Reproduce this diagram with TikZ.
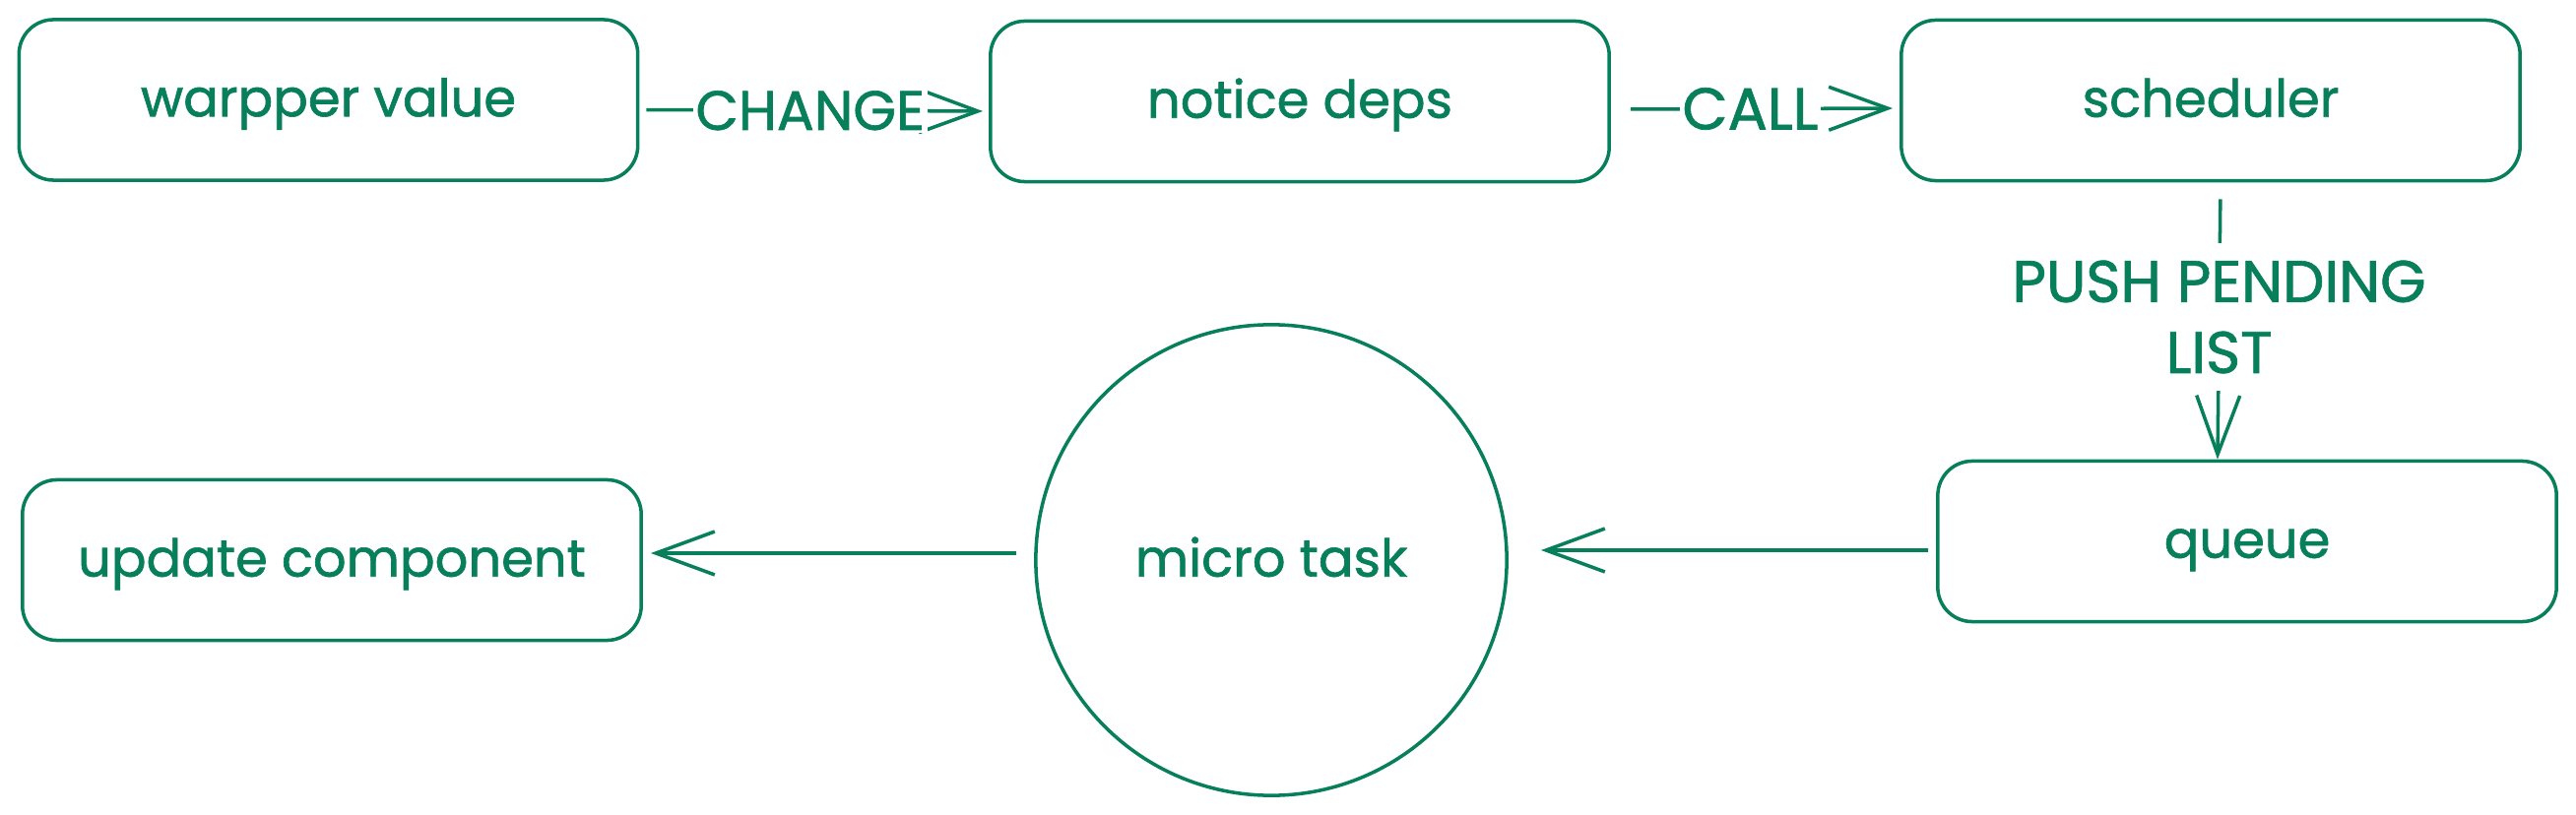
\documentclass[tikz,border=0pt]{standalone}
\usepackage{fontspec}
\setmainfont{Poppins}[FakeBold=1.2]
\usetikzlibrary{arrows.meta}
\definecolor{exgreen}{HTML}{087F5B}
\begin{document}
\begin{tikzpicture}[x=0.01cm,y=-0.01cm,
  every node/.style={text=exgreen,font=\fontsize{15}{19}\selectfont},
  box/.style={draw=exgreen,line width=1pt,rounded corners=0.35cm,minimum width=6.28cm,minimum height=1.63cm,inner sep=0pt,text height=0.95em,text depth=0pt},
  circ/.style={draw=exgreen,line width=1pt,circle,minimum size=4.78cm,inner sep=0pt,text height=0.95em,text depth=0pt},
  conn/.style={draw=exgreen,line width=1pt,-{Straight Barb[length=17pt,width=12.5pt]}},
  lbl/.style={fill=white,inner sep=0.8pt,font=\fontsize{17}{20.5}\selectfont,align=center}]
\useasboundingbox (0,0) rectangle (2616,828);
\node[box] (wv) at (333.5,101.5) {warpper value};
\node[box] (nd) at (1320,103) {notice deps};
\node[box] (sc) at (2245,102) {scheduler};
\node[box] (qu) at (2282,550) {queue};
\node[circ] (mt) at (1291,569) {micro task};
\node[box] (uc) at (337,569) {update component};
\draw[conn,shorten <=0.07cm,shorten >=0.06cm] ([yshift=-0.1cm]wv.east) -- node[lbl,xshift=-0.04cm,font=\fontsize{16}{20}\selectfont]{CHANGE} ([yshift=-0.1cm]nd.west);
\draw[conn,shorten <=0.2cm,shorten >=0.07cm] ([yshift=-0.08cm]nd.east) -- node[lbl,xshift=-0.05cm]{CALL} ([yshift=-0.08cm]sc.west);
\draw[conn,shorten <=0.17cm] ([xshift=0.1cm]sc.south) -- node[lbl,inner ysep=5pt,yshift=0.04cm]{PUSH PENDING\\LIST} ([xshift=-0.3cm]qu.north);
\draw[conn,shorten <=0.08cm,shorten >=0.33cm] ([yshift=-0.09cm]qu.west) -- ([yshift=0.1cm]mt.east);
\draw[conn,shorten <=0.18cm,shorten >=0.08cm] ([yshift=0.07cm]mt.west) -- ([yshift=0.07cm]uc.east);
\end{tikzpicture}
\end{document}
